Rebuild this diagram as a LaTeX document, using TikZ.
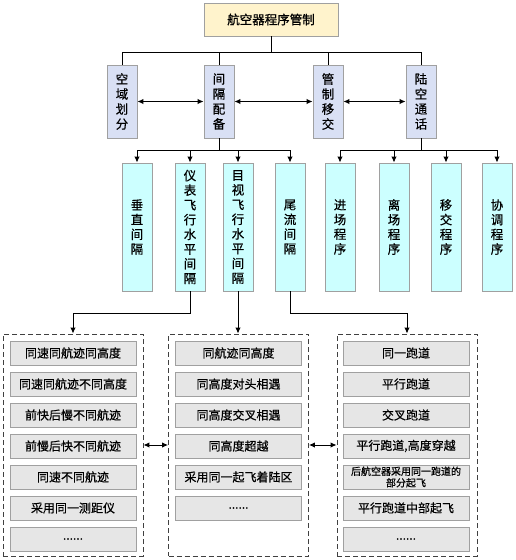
\documentclass[tikz,border=0pt]{standalone}
\usepackage{fontspec}
\setmainfont[FakeBold=0.5]{Noto Sans CJK SC}
\newfontfamily\titlefont[FakeBold=1.2]{Noto Sans CJK SC}
\usetikzlibrary{arrows.meta}
\definecolor{topfill}{HTML}{FFF3CC}
\definecolor{lvtwo}{HTML}{D9E0F4}
\definecolor{lvthree}{HTML}{CCFFFF}
\definecolor{itemfill}{HTML}{E6E6E6}
\definecolor{bordergray}{HTML}{A0A0A0}
\definecolor{dashgray}{HTML}{404040}
\tikzset{
  base/.style={draw=bordergray, line width=0.9pt, inner sep=0pt, align=center},
  topbox/.style={base, fill=topfill, minimum width=134pt, minimum height=33pt, font=\titlefont\fontsize{12.5}{15}\selectfont},
  lvtwobox/.style={base, fill=lvtwo, minimum width=30pt, minimum height=73pt, font=\fontsize{12.5}{15}\selectfont},
  lvthreebox/.style={base, fill=lvthree, minimum width=30pt, minimum height=128pt, font=\fontsize{12.5}{14.7}\selectfont},
  grp/.style={draw=dashgray, dashed, dash pattern=on 5pt off 3pt, line width=0.9pt, minimum width=140pt, minimum height=222pt, inner sep=0pt},
  item/.style={base, fill=itemfill, minimum width=126pt, minimum height=24pt, font=\fontsize{12}{14}\selectfont},
  smallitem/.style={item, font=\fontsize{10}{11.5}\selectfont},
  conn/.style={line width=1pt, black},
  arr/.style={conn, -{Latex[length=6pt,width=5.5pt]}},
  darr/.style={conn, {Latex[length=6pt,width=5.5pt]}-{Latex[length=6pt,width=5.5pt]}}
}
\begin{document}
\begin{tikzpicture}[x=1pt,y=-1pt]
\useasboundingbox (0,0) rectangle (516,560);
% top
\node[topbox] (top) at (271,19.5) {航空器程序管制};
% level two
\node[lvtwobox] (a) at (122,101.5) {空\\域\\划\\分};
\node[lvtwobox] (b) at (219,101.5) {间\\隔\\配\\备};
\node[lvtwobox] (c) at (328,101.5) {管\\制\\移\\交};
\node[lvtwobox] (d) at (421,101.5) {陆\\空\\通\\话};
\coordinate (hb) at (271,52);
\draw[conn] (top.south) -- (hb);
\draw[conn] (a.north) -- (a.north|-hb) -- (d.north|-hb) -- (d.north);
\draw[conn] (b.north) -- (b.north|-hb);
\draw[conn] (c.north) -- (c.north|-hb);
\draw[darr] (a.east) -- (b.west);
\draw[darr] (b.east) -- (c.west);
\draw[darr] (c.east) -- (d.west);
% level three
\node[lvthreebox] (e1) at (137,227) {垂\\直\\间\\隔};
\node[lvthreebox] (e2) at (190,227) {仪\\表\\飞\\行\\水\\平\\间\\隔};
\node[lvthreebox] (e3) at (238,227) {目\\视\\飞\\行\\水\\平\\间\\隔};
\node[lvthreebox] (e4) at (290,227) {尾\\流\\间\\隔};
\node[lvthreebox] (f1) at (340,227) {进\\场\\程\\序};
\node[lvthreebox] (f2) at (394,227) {离\\场\\程\\序};
\node[lvthreebox] (f3) at (446,227) {移\\交\\程\\序};
\node[lvthreebox] (f4) at (497,227) {协\\调\\程\\序};
\coordinate (mb) at (219,150);
\draw[conn] (b.south) -- (b.south|-mb);
\draw[conn] (e1.north|-mb) -- (e4.north|-mb);
\foreach \n in {e1,e2,e3,e4} \draw[arr] (\n.north|-mb) -- (\n.north);
\draw[conn] (d.south) -- (d.south|-mb);
\draw[conn] (f1.north|-mb) -- (f4.north|-mb);
\foreach \n in {f1,f2,f3,f4} \draw[arr] (\n.north|-mb) -- (\n.north);
% groups
\node[grp] (g1) at (73,445) {};
\node[grp] (g2) at (238.5,445) {};
\node[grp] (g3) at (407,445) {};
\coordinate (rb) at (0,313);
\draw[arr] (e2.south) -- (e2.south|-rb) -| (g1.north);
\draw[arr] (e3.south) -- (e3.south|-g2.north);
\draw[arr] (e4.south) -- (e4.south|-rb) -| (g3.north);
\draw[darr] (g1.east) -- (g2.west);
\draw[darr] (g2.east) -- (g3.west);
% items left
\node[item] (l1) at (73,353) {同速同航迹同高度};
\node[item] (l2) at (73,384) {同速同航迹不同高度};
\node[item] (l3) at (73,415) {前快后慢不同航迹};
\node[item] (l4) at (73,446) {前慢后快不同航迹};
\node[item] (l5) at (73,477) {同速不同航迹};
\node[item] (l6) at (73,508) {采用同一测距仪};
\node[item] (l7) at (73,539) {......};
% items middle
\node[item] (m1) at (238.5,353) {同航迹同高度};
\node[item] (m2) at (238.5,384) {同高度对头相遇};
\node[item] (m3) at (238.5,415) {同高度交叉相遇};
\node[item] (m4) at (238.5,446) {同高度超越};
\node[item] (m5) at (238.5,477) {采用同一起飞着陆区};
\node[item] (m6) at (238.5,508) {......};
% items right
\node[item] (r1) at (406,353) {同一跑道};
\node[item] (r2) at (406,384) {平行跑道};
\node[item] (r3) at (406,415) {交叉跑道};
\node[item] (r4) at (406,446) {平行跑道,高度穿越};
\node[smallitem] (r5) at (406,477) {后航空器采用同一跑道的\\部分起飞};
\node[item] (r6) at (406,508) {平行跑道中部起飞};
\node[item] (r7) at (406,539) {......};
\end{tikzpicture}
\end{document}
